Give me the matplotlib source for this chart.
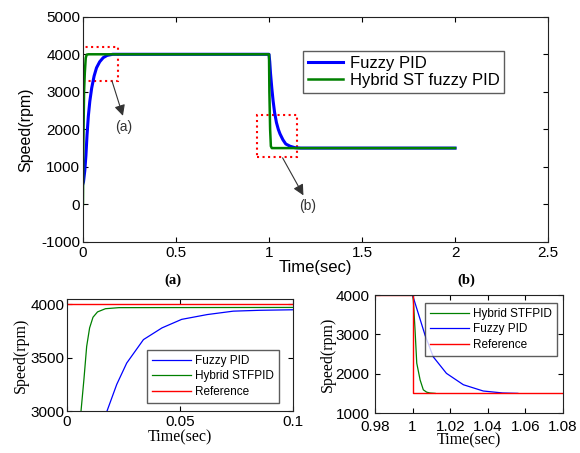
import numpy as np
import matplotlib
matplotlib.use('Agg')
from matplotlib import pyplot as plt
from matplotlib.patches import Rectangle

plt.rcParams['font.family'] = ['Liberation Sans', 'DejaVu Sans']
plt.rcParams['axes.unicode_minus'] = False

# main plot data
t_fuzzy = [0, 0.003, 0.01, 0.016, 0.022, 0.029, 0.037, 0.047, 0.06, 0.073, 0.09, 0.109, 0.13, 0.16,
           1.0, 1.004, 1.008, 1.015, 1.022, 1.03, 1.04, 1.05, 1.059, 1.075, 1.09, 1.113, 1.14, 1.17, 2.0]
v_fuzzy = [550, 600, 900, 1300, 1850, 2350, 2750, 3100, 3420, 3640, 3800, 3910, 3970, 4000,
           4000, 3800, 3500, 3100, 2760, 2450, 2180, 2000, 1880, 1720, 1610, 1550, 1510, 1500, 1500]
t_hybrid = [0, 0.002, 0.006, 0.01, 0.015, 0.02, 0.03, 1.0, 1.002, 1.006, 1.01, 1.015, 2.0]
v_hybrid = [0, 1500, 3000, 3500, 3900, 3990, 4000, 4000, 3000, 2000, 1550, 1500, 1500]

# zoom (a)
ta_fuzzy = [0.0177, 0.022, 0.0264, 0.0338, 0.042, 0.0507, 0.062, 0.0735, 0.085, 0.1]
va_fuzzy = [3000, 3250, 3450, 3670, 3780, 3860, 3905, 3937, 3945, 3950]
ta_hybrid = [0.0062, 0.0075, 0.0087, 0.010, 0.0115, 0.0135, 0.017, 0.023, 0.1]
va_hybrid = [3000, 3300, 3606, 3780, 3880, 3930, 3960, 3970, 3972]
ta_ref = [0, 0.1]
va_ref = [4000, 4000]

# zoom (b)
tb_hybrid = [0.98, 1.0, 1.0004, 1.0013, 1.0022, 1.004, 1.0057, 1.0075, 1.0093, 1.012]
vb_hybrid = [4000, 4000, 3870, 3110, 2270, 1840, 1590, 1530, 1510, 1500]
tb_fuzzy = [0.98, 1.0, 1.0066, 1.011, 1.018, 1.027, 1.0376, 1.048, 1.056]
vb_fuzzy = [4000, 4000, 2985, 2430, 2010, 1720, 1560, 1510, 1500]
tb_ref = [0.98, 1.0, 1.0, 1.08]
vb_ref = [4000, 4000, 1500, 1500]

blue = '#0000ff'
green = '#008000'
red = '#ff0000'

fig = plt.figure(figsize=(5.8, 4.53), dpi=100)

def style(ax, fs=11):
    ax.tick_params(direction='in', top=True, right=True, length=3.5, labelsize=fs, pad=2)
    ax.tick_params(axis='x', pad=3)
    for s in ax.spines.values():
        s.set_color('#222222')

# ---- main axes
ax = fig.add_axes([0.143, 0.466, 0.802, 0.497])
ax.plot(t_fuzzy, v_fuzzy, color=blue, lw=2.2, label='Fuzzy PID')
ax.plot(t_hybrid, v_hybrid, color=green, lw=1.8, label='Hybrid ST fuzzy PID')
ax.set_xlim(0, 2.5)
ax.set_ylim(-1000, 5000)
ax.set_xticks([0, 0.5, 1, 1.5, 2, 2.5])
ax.set_xticklabels(['0', '0.5', '1', '1.5', '2', '2.5'])
style(ax)
ax.set_xlabel('Time(sec)', fontsize=12, labelpad=0)
ax.set_ylabel('Speed(rpm)', fontsize=11.5, labelpad=6)
leg = ax.legend(loc='upper left', bbox_to_anchor=(0.473, 0.849), borderaxespad=0,
                fontsize=12, frameon=True, fancybox=False, handlelength=2.1,
                handletextpad=0.4, borderpad=0.3, labelspacing=0.15)
leg.get_frame().set_edgecolor('#333333')
leg.get_frame().set_linewidth(1.0)

# dotted zoom boxes
ax.add_patch(Rectangle((0.0, 3290), 0.19, 900, fill=False, ls=':', ec=red, lw=1.5))
ax.add_patch(Rectangle((0.937, 1270), 0.215, 1110, fill=False, ls=':', ec=red, lw=1.5))
ax.annotate('', xy=(0.215, 2360), xytext=(0.156, 3290),
            arrowprops=dict(arrowstyle='-|>', color='#333333', lw=0.8, mutation_scale=16,
                            shrinkA=0, shrinkB=0))
ax.text(0.217, 2070, '(a)', fontsize=10, color='#333333', ha='center', va='center')
ax.annotate('', xy=(1.185, 240), xytext=(1.073, 1240),
            arrowprops=dict(arrowstyle='-|>', color='#333333', lw=0.8, mutation_scale=16,
                            shrinkA=0, shrinkB=0))
ax.text(1.21, -30, '(b)', fontsize=10, color='#333333', ha='center', va='center')

fig.text(173 / 580, 1 - 280 / 453, '(a)', fontsize=10.5, fontweight='bold',
         family='Liberation Serif', ha='center', va='center')
fig.text(466 / 580, 1 - 280 / 453, '(b)', fontsize=10.5, fontweight='bold',
         family='Liberation Serif', ha='center', va='center')

# ---- zoom (a)
ax1 = fig.add_axes([0.1155, 0.0927, 0.39, 0.247])
ax1.plot(ta_fuzzy, va_fuzzy, color=blue, lw=0.9, label='Fuzzy PID')
ax1.plot(ta_hybrid, va_hybrid, color=green, lw=0.9, label='Hybrid STFPID')
ax1.plot(ta_ref, va_ref, color=red, lw=1.0, label='Reference')
ax1.set_xlim(0, 0.1)
ax1.set_ylim(3000, 4050)
ax1.set_xticks([0, 0.05, 0.1])
ax1.set_xticklabels(['0', '0.05', '0.1'])
ax1.set_yticks([3000, 3500, 4000])
style(ax1)
ax1.set_xlabel('Time(sec)', fontsize=11.5, family='Liberation Serif', labelpad=0)
ax1.set_ylabel('Speed(rpm)', fontsize=11.5, family='Liberation Serif', labelpad=1)
l1 = ax1.legend(loc='upper left', bbox_to_anchor=(0.354, 0.545), borderaxespad=0,
                fontsize=8.5, fancybox=False, handlelength=3.3, handletextpad=0.4,
                borderpad=0.4, labelspacing=0.3)
l1.get_frame().set_edgecolor('#333333')

# ---- zoom (b)
ax2 = fig.add_axes([0.6466, 0.0883, 0.324, 0.26])
ax2.plot(tb_hybrid, vb_hybrid, color=green, lw=0.9, label='Hybrid STFPID')
ax2.plot(tb_fuzzy, vb_fuzzy, color=blue, lw=0.9, label='Fuzzy PID')
ax2.plot(tb_ref, vb_ref, color=red, lw=1.0, label='Reference')
ax2.set_xlim(0.98, 1.08)
ax2.set_ylim(1000, 4000)
ax2.set_xticks([0.98, 1.0, 1.02, 1.04, 1.06, 1.08])
ax2.set_xticklabels(['0.98', '1', '1.02', '1.04', '1.06', '1.08'])
ax2.set_yticks([1000, 2000, 3000, 4000])
style(ax2)
ax2.tick_params(axis='x', pad=5)
ax2.tick_params(axis='y', pad=4)
ax2.set_xlabel('Time(sec)', fontsize=11.5, family='Liberation Serif', labelpad=-1)
ax2.set_ylabel('Speed(rpm)', fontsize=11.5, family='Liberation Serif', labelpad=0)
l2 = ax2.legend(loc='upper left', bbox_to_anchor=(0.266, 0.932), borderaxespad=0,
                fontsize=8.5, fancybox=False, handlelength=3.3, handletextpad=0.4,
                borderpad=0.4, labelspacing=0.3)
l2.get_frame().set_edgecolor('#333333')

plt.savefig('out.png', dpi=100)
